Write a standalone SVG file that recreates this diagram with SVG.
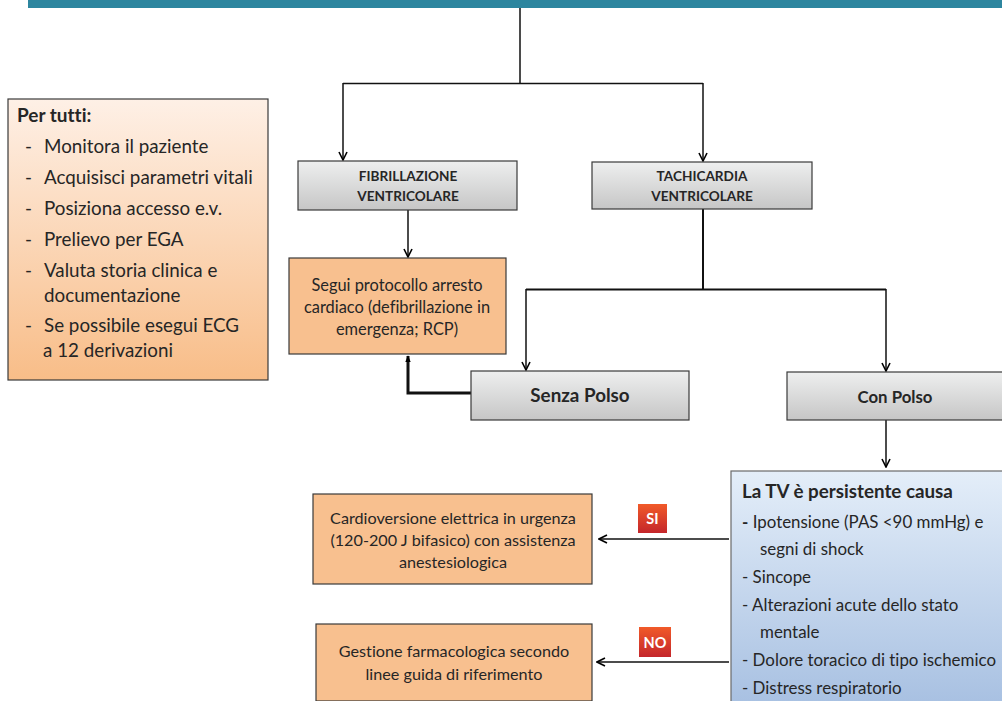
<svg xmlns="http://www.w3.org/2000/svg" width="1002" height="701" viewBox="0 0 1002 701">
  <defs>
    <linearGradient id="gGray" x1="0" y1="0" x2="0" y2="1">
      <stop offset="0" stop-color="#EEEFEF"/>
      <stop offset="1" stop-color="#C6C6C6"/>
    </linearGradient>
    <linearGradient id="gPeach" x1="0" y1="0" x2="0" y2="1">
      <stop offset="0" stop-color="#FEF0E6"/>
      <stop offset="1" stop-color="#F8BD88"/>
    </linearGradient>
    <linearGradient id="gBlue" x1="0" y1="0" x2="0" y2="1">
      <stop offset="0" stop-color="#E4EEF9"/>
      <stop offset="1" stop-color="#A6BFE1"/>
    </linearGradient>
    <linearGradient id="gRed" x1="0" y1="0" x2="0" y2="1">
      <stop offset="0" stop-color="#F15A29"/>
      <stop offset="1" stop-color="#C4262B"/>
    </linearGradient>
    <marker id="open" viewBox="0 0 10 10" refX="9" refY="5" markerWidth="10" markerHeight="10" markerUnits="userSpaceOnUse" orient="auto">
      <path d="M1,1 L9,5 L1,9" fill="none" stroke="#000" stroke-width="1.6"/>
    </marker>
    <marker id="solid" viewBox="0 0 10 10" refX="9" refY="5" markerWidth="7" markerHeight="7" markerUnits="userSpaceOnUse" orient="auto">
      <path d="M0,1 L10,5 L0,9 Z" fill="#000"/>
    </marker>
  </defs>
  <style>
    text { font-family: Lato, "Open Sans", "Liberation Sans", sans-serif; fill: #262626; font-variant-ligatures: none; }
    .b { font-weight: bold; }
    .gray { fill: url(#gGray); stroke: #3a3a3a; stroke-width: 1.2; }
    .orange { fill: #F8C08F; stroke: #3a3a3a; stroke-width: 1.2; }
    .peach { fill: url(#gPeach); stroke: #3a3a3a; stroke-width: 1.2; }
    .blue { fill: url(#gBlue); stroke: #6a6a6a; stroke-width: 1.2; }
    .badge { fill: url(#gRed); }
    .badgeText { fill: #fff; font-weight: bold; font-size: 14.5px; }
    .conn path { fill: none; stroke: #111; stroke-width: 1.5; }
    .c { text-anchor: middle; }
  </style>

  <!-- header bar -->
  <rect x="28" y="0" width="974" height="8" fill="#2D869F"/>

  <!-- connectors -->
  <g class="conn">
    <path d="M520,8 V83.5 M343,83.5 H703"/>
    <path d="M343,83 V160" marker-end="url(#open)"/>
    <path d="M703,83 V161" marker-end="url(#open)"/>
    <path d="M408,210 V257" marker-end="url(#open)"/>
    <path d="M703,209 V289.5 M526,289.5 H886" style="stroke-width:2"/>
    <path d="M526,289 V370" marker-end="url(#open)"/>
    <path d="M886,289 V371" marker-end="url(#open)"/>
    <path d="M471,393 H408 V356" style="stroke-width:3" marker-end="url(#solid)"/>
    <path d="M886,420 V467" marker-end="url(#open)"/>
    <path d="M729,539 H599" marker-end="url(#open)"/>
    <path d="M729,662 H597" marker-end="url(#open)"/>
  </g>

  <!-- general measures box -->
  <g id="per-tutti">
    <rect class="peach" x="8" y="99" width="260" height="281"/>
    <text class="b" x="17" y="122" font-size="19">Per tutti:</text>
    <g font-size="18.8">
      <text x="25" y="153">-</text><text x="44" y="153">Monitora il paziente</text>
      <text x="25" y="184">-</text><text x="44" y="184">Acquisisci parametri vitali</text>
      <text x="25" y="215">-</text><text x="44" y="215">Posiziona accesso e.v.</text>
      <text x="25" y="246">-</text><text x="44" y="246">Prelievo per EGA</text>
      <text x="25" y="277">-</text><text x="44" y="277">Valuta storia clinica e</text>
      <text x="44" y="302">documentazione</text>
      <text x="25" y="332">-</text><text x="44" y="332">Se possibile esegui ECG</text>
      <text x="43" y="357">a 12 derivazioni</text>
    </g>
  </g>

  <g id="fibrillazione">
    <rect class="gray" x="298" y="161" width="219" height="49"/>
    <text class="b c" x="408" y="181" font-size="13.6">FIBRILLAZIONE</text>
    <text class="b c" x="408" y="201" font-size="13.6">VENTRICOLARE</text>
  </g>

  <g id="tachicardia">
    <rect class="gray" x="592" y="162" width="220" height="47"/>
    <text class="b c" x="702" y="181" font-size="13.6">TACHICARDIA</text>
    <text class="b c" x="702" y="201" font-size="13.6">VENTRICOLARE</text>
  </g>

  <g id="arresto">
    <rect class="orange" x="289" y="258" width="217" height="96"/>
    <g font-size="16.4">
      <text class="c" x="397" y="291">Segui protocollo arresto</text>
      <text class="c" x="397" y="313">cardiaco (defibrillazione in</text>
      <text class="c" x="397" y="335">emergenza; RCP)</text>
    </g>
  </g>

  <g id="senza-polso">
    <rect class="gray" x="471" y="371" width="218" height="49"/>
    <text class="b c" x="580" y="402" font-size="18.8">Senza Polso</text>
  </g>

  <g id="con-polso">
    <rect class="gray" x="787" y="372" width="220" height="48"/>
    <text class="b c" x="895" y="403" font-size="16.8">Con Polso</text>
  </g>

  <g id="criteri">
    <rect class="blue" x="731" y="471" width="280" height="240"/>
    <text class="b" x="742" y="498" font-size="18.8">La TV è persistente causa</text>
    <g font-size="16.9">
      <text x="742" y="528"><tspan font-weight="bold">-</tspan> Ipotensione (PAS &lt;90 mmHg) e</text>
      <text x="760" y="555">segni di shock</text>
      <text x="742" y="583">- Sincope</text>
      <text x="742" y="611">- Alterazioni acute dello stato</text>
      <text x="760" y="638">mentale</text>
      <text x="742" y="666">- Dolore toracico di tipo ischemico</text>
      <text x="742" y="694">- Distress respiratorio</text>
    </g>
  </g>

  <g id="cardioversione">
    <rect class="orange" x="313" y="494" width="279" height="90"/>
    <g font-size="16.2">
      <text class="c" x="453" y="524">Cardioversione elettrica in urgenza</text>
      <text class="c" x="453" y="546">(120-200 J bifasico) con assistenza</text>
      <text class="c" x="453" y="568">anestesiologica</text>
    </g>
  </g>

  <g id="gestione">
    <rect class="orange" x="316" y="624" width="276" height="77"/>
    <g font-size="16.2">
      <text class="c" x="454" y="657">Gestione farmacologica secondo</text>
      <text class="c" x="454" y="680">linee guida di riferimento</text>
    </g>
  </g>

  <g id="badge-si">
    <rect class="badge" x="638" y="504" width="29" height="29"/>
    <text class="badgeText c" x="652.5" y="524">SI</text>
  </g>
  <g id="badge-no">
    <rect class="badge" x="639" y="627" width="32" height="30"/>
    <text class="badgeText c" x="655" y="647.5">NO</text>
  </g>
</svg>
